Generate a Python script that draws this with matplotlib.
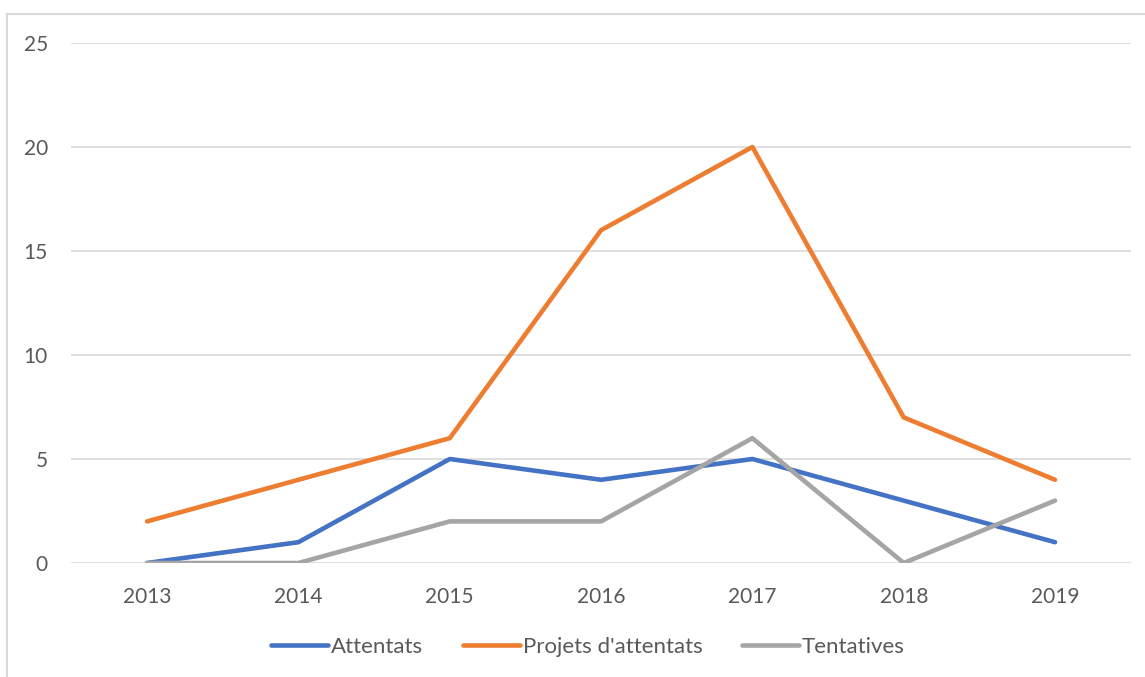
import matplotlib.pyplot as plt
from matplotlib.lines import Line2D

# Données
annees = ['2013', '2014', '2015', '2016', '2017', '2018', '2019']
attentats = [0, 1, 5, 4, 5, 3, 1]
projets = [2, 4, 6, 16, 20, 7, 4]
tentatives = [0, 0, 2, 2, 6, 0, 3]

plt.rcParams['font.family'] = ['Lato', 'DejaVu Sans']

fig = plt.figure(figsize=(11.45, 6.77), dpi=100)
ax = fig.add_axes([0.0624, 0.1684, 0.9251, 0.7681])

x = range(len(annees))
ax.plot(x, attentats, color='#4472C4', lw=3.3, label='Attentats', solid_capstyle='round')
ax.plot(x, projets, color='#ED7D31', lw=3.3, label="Projets d'attentats", solid_capstyle='round')
ax.plot(x, tentatives, color='#A5A5A5', lw=3.3, label='Tentatives', solid_capstyle='round')

ax.set_xlim(-0.5, len(annees) - 0.5)
ax.set_ylim(0, 25)
ax.set_yticks([0, 5, 10, 15, 20, 25])
ax.set_xticks(list(x))
ax.set_xticklabels(annees)
ax.tick_params(length=0, labelsize=15, colors='#595959')
ax.tick_params(axis='x', pad=17)
ax.tick_params(axis='y', pad=17)
ax.grid(axis='y', color='#D9D9D9', lw=1.2)
ax.set_axisbelow(True)
for s in ax.spines.values():
    s.set_visible(False)

# cadre du graphique
fig.add_artist(Line2D([7 / 1145, 7 / 1145], [0, 1 - 14 / 677], color='#D9D9D9', lw=1.5))
fig.add_artist(Line2D([7 / 1145, 1], [1 - 14 / 677, 1 - 14 / 677], color='#D9D9D9', lw=1.5))

fig.legend(loc='center', bbox_to_anchor=(588 / 1145, 1 - 647 / 677), ncol=3, frameon=False,
           fontsize=16, labelcolor='#595959', handlelength=2.55, handletextpad=0.13,
           columnspacing=1.8)

fig.savefig('out.png', dpi=100)
